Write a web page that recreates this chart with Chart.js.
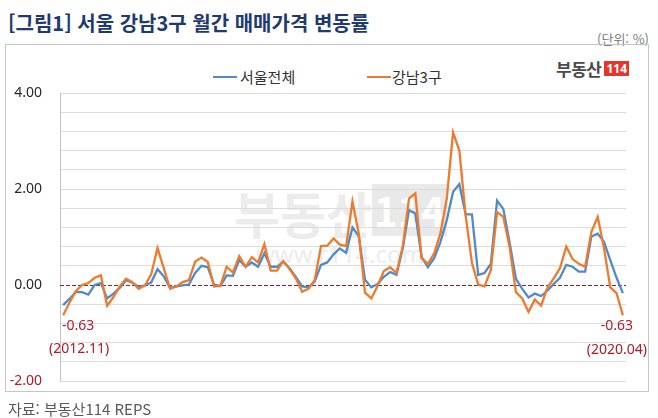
<!DOCTYPE html>
<html lang="ko">
<head>
<meta charset="utf-8">
<title>서울 강남3구 월간 매매가격 변동률</title>
<script src="https://cdn.jsdelivr.net/npm/chart.js@4.4.1/dist/chart.umd.min.js"></script>
<style>
    html, body { margin: 0; padding: 0; background: #fff; }
    #wrap { position: relative; width: 658px; height: 418px; overflow: hidden; font-family: 'Noto Sans CJK KR', 'Noto Sans', sans-serif; }
    #title { position: absolute; left: 8px; top: 11px; font-size: 20px; line-height: 24px; font-weight: bold; color: #1e3a6e; white-space: nowrap; }
    #unit { position: absolute; right: 9px; top: 31px; font-size: 13px; line-height: 16px; color: #808080; }
    #box { position: absolute; left: 5px; top: 44px; width: 642px; height: 346px; border: 1px solid #c6c6c6; }
    .leg-line { position: absolute; height: 2px; top: 76px; width: 24px; }
    .leg-text { position: absolute; top: 67px; font-size: 15px; line-height: 20px; color: #333; }
    #logo { position: absolute; left: 556px; top: 54px; height: 18px; white-space: nowrap; }
    #logo .name { font-size: 17px; line-height: 18px; font-weight: bold; color: #4a4a4a; vertical-align: middle; letter-spacing: -0.5px; }
    #logo .num { display: inline-block; margin-left: 3px; background: #e5352b; color: #fff; font-family: 'Liberation Sans Narrow', 'Noto Sans', sans-serif; font-weight: bold; font-size: 12px; line-height: 15px; padding: 0 2px; vertical-align: middle; }
    #mark { position: absolute; left: 234px; top: 184px; white-space: nowrap; color: #ececec; }
    #mark .big { font-size: 50px; line-height: 56px; font-weight: bold; }
    #mark .box { display: inline-block; background: #e9e9e9; color: #fff; font-size: 40px; line-height: 52px; font-weight: bold; padding: 0 2px; vertical-align: top; }
    #mark .url { font-family: 'Noto Sans', sans-serif; font-size: 24px; line-height: 28px; margin-left: 22px; color: #ececec; }
    #source { position: absolute; left: 8px; top: 399px; font-size: 15px; line-height: 20px; color: #595959; }
    #chart { position: absolute; left: 0; top: 0; }
</style>
</head>
<body>
<div id="wrap">
    <div id="title">[그림1] 서울 강남3구 월간 매매가격 변동률</div>
    <div id="unit">(단위: %)</div>
    <div id="box"></div>
    <div id="mark"><span class="big">부동산</span><span class="box">114</span><div class="url">www.r114.com</div></div>
    <div class="leg-line" style="left:213px; background:#4f8bc9;"></div>
    <div class="leg-text" style="left:240px;">서울전체</div>
    <div class="leg-line" style="left:367px; background:#ec7a2f;"></div>
    <div class="leg-text" style="left:392px;">강남3구</div>
    <div id="logo"><span class="name">부동산</span><span class="num">114</span></div>
    <canvas id="chart" width="658" height="418"></canvas>
    <div id="source">자료: 부동산114 REPS</div>
</div>
<script>
// monthly change rate (%), 2012.11 ~ 2020.04
const startYear = 2012;
const startMonth = 11;
const monthCount = 90;

const seoulAll = [
    -0.42, -0.29, -0.15, -0.15, -0.20, 0.00, 0.04, -0.28, -0.18, -0.06,
    0.10, 0.05, -0.04, -0.01, 0.05, 0.33, 0.18, -0.06, -0.03, -0.01,
    0.01, 0.25, 0.40, 0.37, 0.00, -0.02, 0.20, 0.19, 0.52, 0.38,
    0.47, 0.38, 0.66, 0.38, 0.38, 0.49, 0.35, 0.17, -0.03, -0.05,
    0.07, 0.42, 0.47, 0.64, 0.76, 0.67, 1.20, 1.02, 0.11, -0.05,
    0.02, 0.17, 0.27, 0.21, 0.76, 1.56, 1.49, 0.58, 0.37, 0.56,
    0.90, 1.35, 1.94, 2.10, 1.47, 1.47, 0.21, 0.25, 0.44, 1.76,
    1.58, 0.88, 0.13, -0.08, -0.26, -0.18, -0.23, -0.12, 0.02, 0.15,
    0.42, 0.38, 0.28, 0.28, 1.01, 1.07, 0.90, 0.52, 0.15, -0.17
];

const gangnam3 = [
    -0.63, -0.37, -0.13, 0.00, 0.04, 0.15, 0.20, -0.43, -0.25, -0.03,
    0.13, 0.06, -0.08, -0.01, 0.22, 0.77, 0.35, -0.08, -0.03, 0.06,
    0.10, 0.49, 0.57, 0.48, -0.03, -0.02, 0.38, 0.26, 0.60, 0.38,
    0.58, 0.47, 0.85, 0.30, 0.30, 0.50, 0.33, 0.14, -0.14, -0.08,
    0.10, 0.81, 0.82, 0.97, 0.84, 0.81, 1.74, 1.08, -0.16, -0.28,
    -0.02, 0.29, 0.37, 0.25, 0.80, 1.80, 1.91, 0.56, 0.44, 0.66,
    1.08, 1.80, 3.18, 2.80, 1.45, 0.46, 0.01, -0.03, 0.31, 1.52,
    1.42, 0.78, -0.15, -0.28, -0.56, -0.30, -0.43, -0.06, 0.14, 0.35,
    0.80, 0.54, 0.44, 0.38, 1.11, 1.42, 0.77, -0.05, -0.17, -0.63
];

const yMin = -2;
const yMax = 4;
const yStep = 0.4;

// month labels like 2012.11
const monthLabels = [];
for (let i = 0; i < monthCount; i++) {
    const m = startMonth - 1 + i;
    const y = startYear + Math.floor(m / 12);
    monthLabels.push(y + '.' + String(m % 12 + 1).padStart(2, '0'));
}

Chart.defaults.font.family = "'Noto Sans', 'Noto Sans CJK KR', sans-serif";

// dashed red line on 0
const zeroLine = {
    id: 'zeroLine',
    beforeDatasetsDraw(chart) {
        const ctx = chart.ctx;
        const area = chart.chartArea;
        const y0 = Math.round(chart.scales.y.getPixelForValue(0)) + 0.5;
        ctx.save();
        ctx.strokeStyle = '#9e1b22';
        ctx.lineWidth = 1;
        ctx.setLineDash([4, 2]);
        ctx.beginPath();
        ctx.moveTo(area.left, y0);
        ctx.lineTo(area.right, y0);
        ctx.stroke();
        ctx.restore();
    }
};

// first / last value notes under the gangnam line
const endNotes = {
    id: 'endNotes',
    afterDatasetsDraw(chart) {
        const ctx = chart.ctx;
        const pts = chart.getDatasetMeta(0).data;
        const last = pts.length - 1;
        ctx.save();
        ctx.fillStyle = '#b01a2a';
        ctx.font = "14px 'Noto Sans', sans-serif";
        ctx.textAlign = 'center';
        ctx.textBaseline = 'middle';
        ctx.fillText(gangnam3[0].toFixed(2), pts[0].x + 15, pts[0].y + 11);
        ctx.fillText('(' + monthLabels[0] + ')', pts[0].x + 16, pts[0].y + 34);
        ctx.fillText(gangnam3[last].toFixed(2), pts[last].x - 6, pts[last].y + 11);
        ctx.fillText('(' + monthLabels[last] + ')', pts[last].x - 6, pts[last].y + 35);
        ctx.restore();
    }
};

const ctx = document.getElementById('chart').getContext('2d');
new Chart(ctx, {
    type: 'line',
    data: {
        labels: monthLabels,
        datasets: [
            {
                label: '강남3구',
                data: gangnam3,
                borderColor: '#ec7a2f',
                backgroundColor: '#ec7a2f',
                borderWidth: 2.3,
                pointRadius: 0,
                tension: 0,
                fill: false,
                order: 0
            },
            {
                label: '서울전체',
                data: seoulAll,
                borderColor: '#4f8bc9',
                backgroundColor: '#4f8bc9',
                borderWidth: 2.3,
                pointRadius: 0,
                tension: 0,
                fill: false,
                order: 1
            }
        ]
    },
    options: {
        responsive: false,
        animation: false,
        layout: { padding: { top: 93, bottom: 37, left: 0, right: 32 } },
        plugins: {
            legend: { display: false },
            tooltip: { enabled: false }
        },
        scales: {
            x: {
                display: false,
                offset: true
            },
            y: {
                min: yMin,
                max: yMax,
                afterFit: function(scale) { scale.width = 60; },
                border: { display: true, color: '#c4c4c4', width: 1 },
                grid: {
                    drawTicks: false,
                    lineWidth: 1,
                    color: function(c) {
                        return Math.abs(c.tick.value) < 1e-6 ? 'rgba(0,0,0,0)' : '#dcdcdc';
                    }
                },
                ticks: {
                    stepSize: yStep,
                    autoSkip: false,
                    padding: 18,
                    font: { size: 14 },
                    color: function(c) {
                        return c.tick.value < -1.9 ? '#b01a2a' : '#262626';
                    },
                    callback: function(v) {
                        const r = Math.round(v * 10) / 10;
                        return r % 2 === 0 ? r.toFixed(2) : '';
                    }
                }
            }
        }
    },
    plugins: [zeroLine, endNotes]
});
</script>
</body>
</html>
